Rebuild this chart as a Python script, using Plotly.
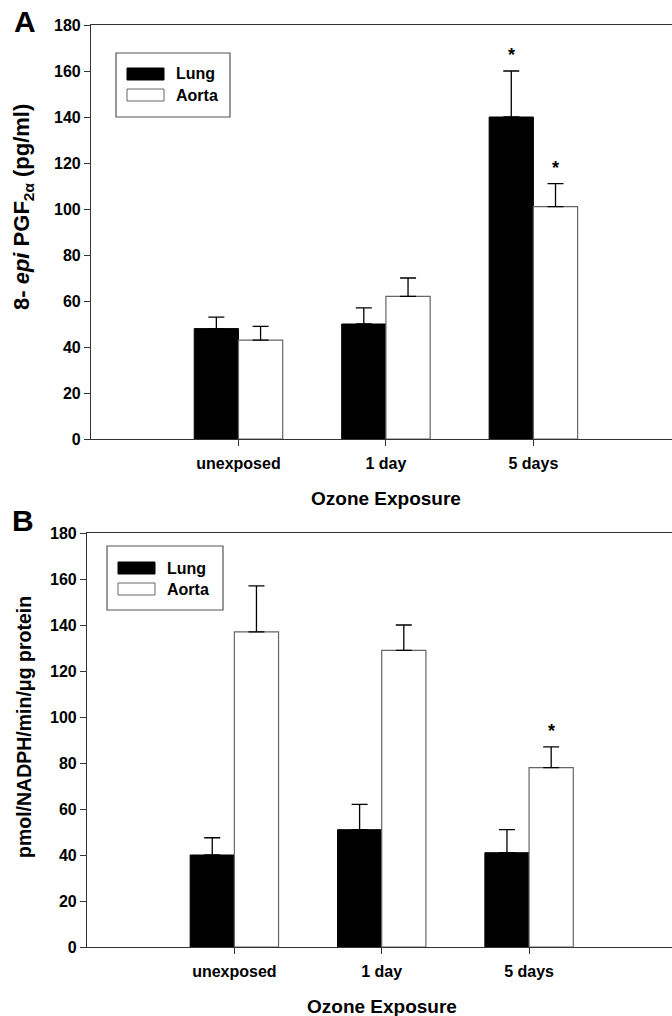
import plotly.graph_objects as go

W, H = 672, 1016

categories = ["unexposed", "1 day", "5 days"]
series_names = ["Lung", "Aorta"]

# Panel A: 8-epi PGF2a (pg/ml)
a_lung = [48, 50, 140]
a_lung_err = [5, 7, 20]
a_aorta = [43, 62, 101]
a_aorta_err = [6, 8, 10]
a_sig_lung = [False, False, True]
a_sig_aorta = [False, False, True]

# Panel B: pmol/NADPH/min/ug protein
b_lung = [40, 51, 41]
b_lung_err = [7.5, 11, 10]
b_aorta = [137, 129, 78]
b_aorta_err = [20, 11, 9]
b_sig_lung = [False, False, False]
b_sig_aorta = [False, False, True]

y_ticks = [0, 20, 40, 60, 80, 100, 120, 140, 160, 180]

FONT = "Liberation Sans, Arial, sans-serif"
xs = list(range(len(categories)))


def px(x):
    return x / W


def py(y):
    return 1 - y / H


fig = go.Figure()


def add_panel(xa, ya, lung, lung_err, aorta, aorta_err):
    fig.add_trace(go.Bar(
        x=xs, y=lung, name=series_names[0], xaxis=xa, yaxis=ya,
        marker=dict(color="black", line=dict(color="black", width=1)),
        error_y=dict(type="data", symmetric=False, array=lung_err,
                     arrayminus=[0] * len(lung), color="black",
                     thickness=1.3, width=8),
        offsetgroup="lung", showlegend=False))
    fig.add_trace(go.Bar(
        x=xs, y=aorta, name=series_names[1], xaxis=xa, yaxis=ya,
        marker=dict(color="white", line=dict(color="#666666", width=1.2)),
        error_y=dict(type="data", symmetric=False, array=aorta_err,
                     arrayminus=[0] * len(aorta), color="black",
                     thickness=1.3, width=8),
        offsetgroup="aorta", showlegend=False))


add_panel("x", "y", a_lung, a_lung_err, a_aorta, a_aorta_err)
add_panel("x2", "y2", b_lung, b_lung_err, b_aorta, b_aorta_err)

axis_font = dict(family=FONT, size=16, color="black", weight="bold")
common_x = dict(
    tickmode="array", tickvals=xs, ticktext=categories,
    showline=True, linecolor="#333333", linewidth=1.2, mirror=True,
    ticks="outside", ticklen=6, tickcolor="#333333", tickwidth=1.2,
    showgrid=False, zeroline=False, tickfont=axis_font,
    ticklabelstandoff=4, automargin=False,
)
common_y = dict(
    range=[0, 180], tickmode="array", tickvals=y_ticks,
    showline=True, linecolor="#333333", linewidth=1.2, mirror=False,
    ticks="outside", ticklen=6, tickcolor="#333333", tickwidth=1.2,
    showgrid=False, zeroline=False, tickfont=axis_font, automargin=False,
)

fig.update_layout(
    width=W, height=H,
    margin=dict(l=0, r=0, t=0, b=0),
    paper_bgcolor="white", plot_bgcolor="white",
    barmode="group", bargap=0.4, bargroupgap=0,
    showlegend=False,
    font=dict(family=FONT, color="black"),
    xaxis=dict(common_x, domain=[px(91), 1], range=[-1, 2.94], anchor="y"),
    yaxis=dict(common_y, domain=[py(439), py(25)], anchor="x"),
    xaxis2=dict(common_x, domain=[px(87), 1], range=[-1, 2.97], anchor="y2"),
    yaxis2=dict(common_y, domain=[py(947), py(533)], anchor="x2"),
)

annotations = []
# significance asterisks
for xa, ya, vals, errs, sig, off in [
    ("x", "y", a_lung, a_lung_err, a_sig_lung, -0.15),
    ("x", "y", a_aorta, a_aorta_err, a_sig_aorta, 0.15),
    ("x2", "y2", b_lung, b_lung_err, b_sig_lung, -0.15),
    ("x2", "y2", b_aorta, b_aorta_err, b_sig_aorta, 0.15),
]:
    for i, (v, e, s) in enumerate(zip(vals, errs, sig)):
        if s:
            annotations.append(dict(
                x=i + off, y=v + e, xref=xa, yref=ya, text="<b>*</b>",
                showarrow=False, yanchor="bottom", yshift=4,
                font=dict(family=FONT, size=18, color="black")))

# panel letters
annotations.append(dict(x=px(12), y=py(22), xref="paper", yref="paper",
                        text="<b>A</b>", showarrow=False, xanchor="left",
                        yanchor="middle", font=dict(family=FONT, size=30)))
annotations.append(dict(x=px(10), y=py(520), xref="paper", yref="paper",
                        text="<b>B</b>", showarrow=False, xanchor="left",
                        yanchor="middle", font=dict(family=FONT, size=30)))

# y titles
annotations.append(dict(
    x=px(23), y=py(207), xref="paper", yref="paper", textangle=-90,
    text="<b>8- <i>epi</i> PGF<sub>2α</sub> (pg/ml)</b>", showarrow=False,
    xanchor="center", yanchor="middle", font=dict(family=FONT, size=22)))
annotations.append(dict(
    x=px(24), y=py(727), xref="paper", yref="paper", textangle=-90,
    text="<b>pmol/NADPH/min/μg protein</b>", showarrow=False,
    xanchor="center", yanchor="middle", font=dict(family=FONT, size=19.5)))

# x titles
annotations.append(dict(
    x=1, y=py(498), xref="x", yref="paper", text="<b>Ozone Exposure</b>",
    showarrow=False, xanchor="center", yanchor="middle",
    font=dict(family=FONT, size=19)))
annotations.append(dict(
    x=1, y=py(1006), xref="x2", yref="paper", text="<b>Ozone Exposure</b>",
    showarrow=False, xanchor="center", yanchor="middle",
    font=dict(family=FONT, size=19)))

# legends (drawn manually to match wide rectangular keys)
shapes = []
for (bx0, by0, bx1, by1, sx0, sx1, ly, ay, tx) in [
    (116, 53, 230, 117, 127, 164, 74, 95, 174),
    (107, 546, 223, 610, 118, 155, 568, 589, 165),
]:
    shapes.append(dict(type="rect", xref="paper", yref="paper",
                       x0=px(bx0), x1=px(bx1), y0=py(by1), y1=py(by0),
                       line=dict(color="#555555", width=1.2),
                       fillcolor="white", layer="above"))
    shapes.append(dict(type="rect", xref="paper", yref="paper",
                       x0=px(sx0), x1=px(sx1), y0=py(ly + 6), y1=py(ly - 6),
                       line=dict(color="black", width=1),
                       fillcolor="black", layer="above"))
    shapes.append(dict(type="rect", xref="paper", yref="paper",
                       x0=px(sx0), x1=px(sx1), y0=py(ay + 6), y1=py(ay - 6),
                       line=dict(color="#666666", width=1),
                       fillcolor="white", layer="above"))
    annotations.append(dict(x=px(tx), y=py(ly), xref="paper", yref="paper",
                            text="<b>" + series_names[0] + "</b>",
                            showarrow=False, xanchor="left", yanchor="middle",
                            font=dict(family=FONT, size=16)))
    annotations.append(dict(x=px(tx), y=py(ay), xref="paper", yref="paper",
                            text="<b>" + series_names[1] + "</b>",
                            showarrow=False, xanchor="left", yanchor="middle",
                            font=dict(family=FONT, size=16)))

fig.update_layout(annotations=annotations, shapes=shapes)
fig.write_html(
    "out.html",
    config={"displayModeBar": False},
    post_script="document.body.style.margin='0';document.body.style.overflow='hidden';",
)
